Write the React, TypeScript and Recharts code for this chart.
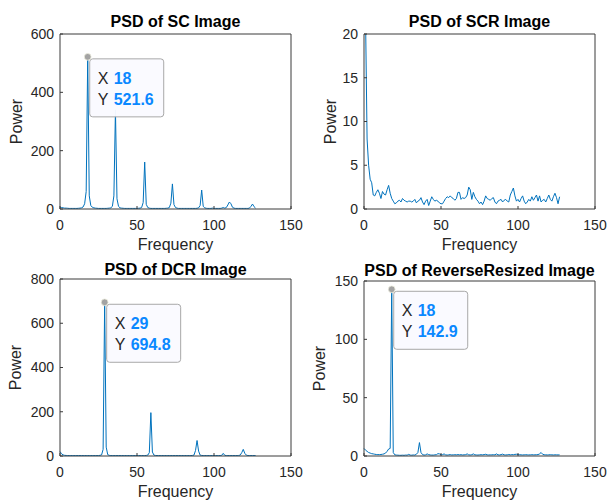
import React from 'react';
import { LineChart, Line, XAxis, YAxis, ReferenceDot, Label } from 'recharts';

const FREQ_TICKS = [0, 50, 100, 150];

const scPower = [
  6, 5, 4, 3, 3, 2.5, 2, 2, 2, 2,
  2, 2, 2.5, 3, 4, 7, 18, 60, 521.6, 45,
  12, 6, 4, 3, 2.5, 2, 2, 2, 2, 2,
  2, 2.5, 3, 4, 9, 45, 340, 35, 9, 4,
  3, 2.5, 2, 2, 2, 2, 2, 2, 2, 2,
  2, 2.5, 3, 5, 22, 161, 16, 5, 3, 2,
  2, 2, 2, 2, 2, 2, 2, 2, 2, 2.5,
  3, 5, 20, 86, 15, 5, 3, 2, 2, 2,
  2, 2, 2, 2, 2, 2, 2, 2, 2, 2.5,
  4, 12, 65, 9, 4, 2.5, 2, 2, 2, 3,
  2, 2, 2, 2, 2, 3, 5, 3, 5, 14,
  24, 18, 6, 3, 2, 2, 2, 2, 2, 2,
  2, 2, 2, 3, 9, 17, 8, 3,
];

const scrPower = [
  80, 22, 8, 5, 3.4, 3.0, 1.6, 1.5, 1.9, 2.2,
  1.8, 1.2, 2.0, 1.7, 1.6, 2.2, 2.7, 1.8, 1.2, 0.9,
  0.6, 0.7, 0.9, 1.0, 0.8, 1.2, 1.0, 0.9, 0.8, 0.9,
  0.9, 0.8, 0.9, 1.1, 0.7, 0.9, 1.0, 1.3, 0.8, 0.5,
  0.9, 1.1, 0.4, 0.9, 1.4, 1.1, 0.9, 1.0, 0.9, 0.7,
  0.6, 0.6, 0.9, 1.2, 1.4, 1.3, 1.5, 1.3, 1.2, 1.0,
  1.2, 1.9, 1.9, 1.1, 1.3, 1.2, 1.3, 1.6, 2.5, 2.2,
  1.1, 1.9, 1.4, 1.1, 0.9, 0.6, 0.8, 0.5, 0.9, 1.5,
  1.2, 1.1, 1.0, 1.2, 1.3, 0.8, 0.6, 0.9, 1.0, 1.1,
  0.8, 1.0, 1.1, 0.9, 0.8, 1.6, 2.0, 2.4, 1.5, 0.9,
  1.1, 0.8, 1.2, 1.5, 0.9, 0.6, 0.8, 1.1, 0.9, 1.4,
  1.0, 1.3, 1.6, 0.9, 1.5, 0.8, 1.0, 1.1, 0.8, 1.2,
  1.6, 1.1, 0.9, 1.4, 1.8, 1.3, 0.6, 1.4,
];

const dcrPower = [
  20, 10, 5, 3, 2.5, 2, 2, 2, 2, 2,
  2, 2, 2, 2, 2, 2, 2, 2, 2, 2,
  2, 2, 2, 2, 2, 2, 3, 5, 30, 694.8,
  40, 6, 3, 2, 2, 2, 2, 2, 2, 2,
  2, 2, 2, 2, 2, 2, 2, 2, 2, 2,
  2, 2, 2, 2, 2, 2, 2.5, 4, 15, 196,
  18, 4, 2.5, 2, 2, 2, 2, 2, 2, 2,
  2, 2, 2, 2, 2, 2, 2, 2, 2, 2,
  2, 2, 2, 2, 2, 2, 2.5, 4, 25, 70,
  22, 4, 2.5, 2, 2, 2, 2, 2, 2, 2,
  2, 2, 2, 2, 2, 3, 12, 3, 2, 2,
  2, 2, 2, 2, 2, 2, 2.5, 4, 15, 30,
  12, 4, 2, 2, 2, 2, 2, 2,
];

const rrPower = [
  6.5, 5, 4, 3, 2.5, 2, 1.8, 1.5, 1.3, 1.2,
  1.2, 1.3, 1.5, 1.8, 2.5, 4, 6, 6.5, 142.9, 3,
  1, 0.8, 0.7, 0.6, 0.6, 0.7, 0.6, 0.8, 0.7, 1.4,
  0.8, 0.7, 0.9, 0.8, 1.5, 3, 11.5, 3, 1.2, 0.8,
  1, 1.8, 1.2, 0.9, 0.8, 0.8, 1, 1.1, 2, 1.8,
  1, 1.2, 1.8, 1, 0.8, 1, 1.2, 0.9, 1, 1.1,
  1, 1.2, 1, 1.1, 0.9, 1, 1.2, 1.8, 1, 0.9,
  1.1, 1.8, 1, 0.9, 0.8, 1, 1.1, 1, 1.2, 1.5,
  1, 0.9, 1, 1, 1.1, 1, 1.8, 1, 0.9, 1.2,
  1.6, 1, 0.9, 1, 1.3, 1, 1.2, 1.1, 1.4, 1.5,
  1.2, 1.1, 1, 0.9, 1, 1.1, 1, 0.9, 1, 1.1,
  1, 1, 1.1, 1.2, 1.8, 3, 1.5, 1.1, 1, 0.9,
  1, 1.1, 1, 0.9, 1, 1, 0.9, 1,
];

const scTicks = [0, 200, 400, 600];
const scrTicks = [0, 5, 10, 15, 20];
const dcrTicks = [0, 200, 400, 600, 800];
const rrTicks = [0, 50, 100, 150];

const titles = ['PSD of SC Image', 'PSD of SCR Image', 'PSD of DCR Image', 'PSD of ReverseResized Image'];
const xLabel = 'Frequency';
const yLabel = 'Power';

const toRows = (arr: number[]) => arr.map((p, i) => ({ f: i, p }));

const FONT = '"Liberation Sans", Arial, Helvetica, sans-serif';
const AXIS_COLOR = '#3a3a3a';
const TEXT_COLOR = '#262626';
const LINE_COLOR = '#0072BD';
const TIP_VALUE = '#0a88ff';

type Tip = { x: number; y: number };

type PanelProps = {
  left: number;
  top: number;
  height: number;
  plotTop: number;
  plotBottom: number;
  title: string;
  titleGap: number;
  yLabelGap: number;
  data: { f: number; p: number }[];
  yTicks: number[];
  tip?: Tip;
};

const axisLine = { stroke: AXIS_COLOR, strokeWidth: 1 };
const tickStyle = { fill: TEXT_COLOR, fontSize: 14, fontFamily: FONT };

function Panel({ left, top, height, plotTop, plotBottom, title, titleGap, yLabelGap, data, yTicks, tip }: PanelProps) {
  const W = 304;
  const H = height;
  const yDomain: [number, number] = [yTicks[0], yTicks[yTicks.length - 1]];
  return (
    <div style={{ position: 'absolute', left, top, width: W, height: H }}>
      <LineChart width={W} height={H} data={data} margin={{ top: plotTop - 1, right: 12, bottom: 0, left: 0 }}>
        <XAxis
          xAxisId="b"
          dataKey="f"
          type="number"
          domain={[0, 150]}
          ticks={FREQ_TICKS}
          height={H - plotBottom}
          tickSize={-3}
          tickMargin={14}
          axisLine={axisLine}
          tickLine={axisLine}
          tick={tickStyle}
          interval={0}
        >
          <Label
            content={(props: any) => {
              const vb = props.viewBox;
              return (
                <text x={vb.x + vb.width / 2} y={vb.y + 41} textAnchor="middle" fontSize={16} fontFamily={FONT} fill={TEXT_COLOR}>
                  {xLabel}
                </text>
              );
            }}
          />
        </XAxis>
        <XAxis
          xAxisId="t"
          dataKey="f"
          orientation="top"
          type="number"
          domain={[0, 150]}
          ticks={FREQ_TICKS}
          height={1}
          tickSize={-3}
          tick={false}
          axisLine={axisLine}
          tickLine={axisLine}
          interval={0}
        >
          <Label
            content={(props: any) => {
              const vb = props.viewBox;
              return (
                <text x={vb.x + vb.width / 2} y={vb.y + vb.height - titleGap} textAnchor="middle" fontSize={16} fontWeight="bold" fontFamily={FONT} fill="#000">
                  {title}
                </text>
              );
            }}
          />
        </XAxis>
        <YAxis
          yAxisId="l"
          type="number"
          domain={yDomain}
          ticks={yTicks}
          width={60}
          tickSize={-3}
          tickMargin={9}
          axisLine={axisLine}
          tickLine={axisLine}
          tick={tickStyle}
          allowDataOverflow
          interval={0}
        >
          <Label
            content={(props: any) => {
              const vb = props.viewBox;
              const cx = vb.x + vb.width - yLabelGap;
              const cy = vb.y + vb.height / 2;
              return (
                <text x={cx} y={cy} transform={`rotate(-90 ${cx} ${cy})`} textAnchor="middle" fontSize={16} fontFamily={FONT} fill={TEXT_COLOR}>
                  {yLabel}
                </text>
              );
            }}
          />
        </YAxis>
        <YAxis
          yAxisId="r"
          dataKey="p"
          orientation="right"
          type="number"
          domain={yDomain}
          ticks={yTicks}
          width={1}
          tickSize={-3}
          tick={false}
          axisLine={axisLine}
          tickLine={axisLine}
          allowDataOverflow
          interval={0}
        />
        <Line
          xAxisId="t"
          yAxisId="r"
          type="linear"
          dataKey="p"
          stroke="none"
          strokeWidth={0}
          dot={false}
          activeDot={false}
          legendType="none"
          isAnimationActive={false}
        />
        <Line
          xAxisId="b"
          yAxisId="l"
          type="linear"
          dataKey="p"
          stroke={LINE_COLOR}
          strokeWidth={1}
          dot={false}
          activeDot={false}
          isAnimationActive={false}
        />
        {tip && (
          <ReferenceDot
            xAxisId="b"
            yAxisId="l"
            x={tip.x}
            y={tip.y}
            r={3.4}
            shape={(props: any) => {
              const { cx, cy } = props;
              const bx = cx + 2;
              const by = cy + 2;
              return (
                <g>
                  <rect x={bx} y={by} width={74} height={58} rx={3} ry={3} fill="rgba(250,250,255,0.96)" stroke="#a8a8a8" strokeWidth={1} />
                  <text x={bx + 8} y={by + 25} fontSize={16} fontFamily={FONT} fill={TEXT_COLOR}>X</text>
                  <text x={bx + 24} y={by + 25} fontSize={16} fontWeight="bold" fontFamily={FONT} fill={TIP_VALUE}>{String(tip.x)}</text>
                  <text x={bx + 8} y={by + 46} fontSize={16} fontFamily={FONT} fill={TEXT_COLOR}>Y</text>
                  <text x={bx + 24} y={by + 46} fontSize={16} fontWeight="bold" fontFamily={FONT} fill={TIP_VALUE}>{tip.y.toFixed(1)}</text>
                  <circle cx={cx} cy={cy} r={3.4} fill="#a3a3a3" stroke="#eeeede" strokeWidth={0.8} />
                </g>
              );
            }}
          />
        )}
      </LineChart>
    </div>
  );
}

export default function App() {
  return (
    <div style={{ position: 'absolute', left: 0, top: 0, width: 608, height: 500, background: '#fff', overflow: 'hidden' }}>
      <Panel left={0} top={0} height={262} plotTop={34} plotBottom={209} title={titles[0]} titleGap={7} yLabelGap={38.5}
        data={toRows(scPower)} yTicks={scTicks} tip={{ x: 18, y: 521.6 }} />
      <Panel left={304} top={0} height={262} plotTop={34} plotBottom={209} title={titles[1]} titleGap={7} yLabelGap={28.5}
        data={toRows(scrPower)} yTicks={scrTicks} />
      <Panel left={0} top={250} height={250} plotTop={29} plotBottom={206} title={titles[2]} titleGap={4} yLabelGap={39}
        data={toRows(dcrPower)} yTicks={dcrTicks} tip={{ x: 29, y: 694.8 }} />
      <Panel left={304} top={250} height={250} plotTop={31} plotBottom={206} title={titles[3]} titleGap={5} yLabelGap={39.5}
        data={toRows(rrPower)} yTicks={rrTicks} tip={{ x: 18, y: 142.9 }} />
    </div>
  );
}
